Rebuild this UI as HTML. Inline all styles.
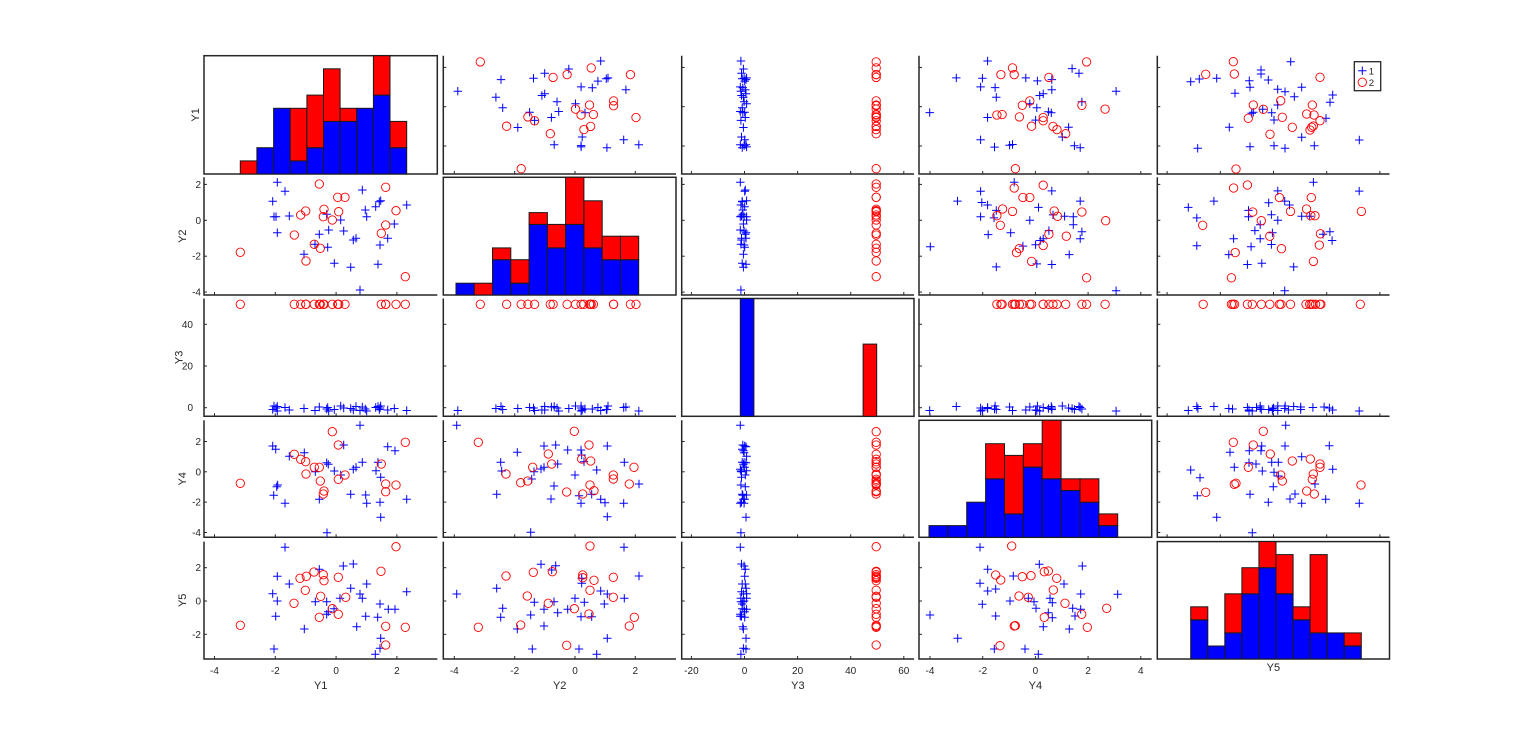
<!DOCTYPE html>
<html><head><meta charset="utf-8">
<style>
html,body{margin:0;padding:0;background:#fff;}
svg{display:block;}
text{font-family:"Liberation Sans",Arial,sans-serif;fill:#262626;}
</style></head>
<body>
<svg id="c" width="1536" height="744" xmlns="http://www.w3.org/2000/svg"></svg>
<script>
const L=[204,443.3,681.7,919,1157.3], R=[437.3,676,914,1151.7,1389.5];
const T=[55.7,177.3,298.5,420.3,541.6], B=[174,295,416.3,537.3,659];
const X0=[336.1,575,744.5,1035.4,1273.5], SX=[30.4,30.17,2.655,26.34,26.6];
const Y0=[106.7,220.3,407.7,471.8,601], SY=[19.67,17.95,2.085,15.17,16.65];
const P={
'21':{ox:180,oy:160,
b:[[292,67],[315,94],[278,124],[282,170],[288,170],[328,168],[292,218],[372,283],[405,253],[418,223],[440,163],[446,210],[443,262],[463,310],[482,180],[491,213],[520,240],[528,235],[512,322],[540,390],[547,90],[556,150],[560,170],[587,140],[598,125],[602,122],[600,255],[623,235],[594,313],[643,192],[680,135]],
r:[[181,277],[418,72],[473,112],[495,112],[617,82],[362,165],[377,153],[432,148],[476,155],[430,170],[457,180],[648,152],[617,195],[604,220],[343,225],[403,253],[421,265],[378,303],[676,350]]},
'51':{ox:180,oy:530,
b:[[315,52],[292,139],[328,162],[278,191],[292,213],[287,259],[282,357],[373,297],[406,215],[418,118],[440,215],[440,253],[445,245],[462,236],[480,205],[490,108],[520,102],[512,175],[540,192],[547,205],[560,162],[530,290],[557,259],[593,262],[600,222],[625,238],[645,238],[680,185],[602,325],[600,355],[586,373]],
r:[[181,286],[648,50],[603,124],[360,145],[379,139],[402,126],[430,134],[432,152],[475,142],[376,181],[422,199],[342,220],[457,236],[475,253],[418,262],[497,202],[617,289],[676,292],[617,345]]},
'41':{ox:180,oy:410,
b:[[540,46],[278,108],[287,118],[328,139],[373,128],[406,185],[440,158],[445,163],[463,183],[482,195],[491,105],[520,178],[528,172],[547,157],[588,182],[594,157],[602,202],[623,110],[645,122],[293,225],[290,230],[281,256],[315,280],[418,268],[512,253],[557,255],[560,280],[600,277],[602,322],[680,268],[441,368]],
r:[[181,220],[457,65],[475,105],[676,97],[343,133],[362,148],[377,155],[403,172],[418,172],[378,192],[421,213],[432,243],[430,252],[475,208],[495,195],[604,162],[617,222],[617,245],[648,225]]},
'42':{ox:435,oy:410,
b:[[65,46],[327,108],[362,105],[398,120],[438,120],[517,108],[247,127],[197,157],[200,183],[297,185],[318,177],[327,172],[290,207],[368,162],[447,155],[485,180],[568,157],[420,195],[357,228],[612,222],[185,253],[348,267],[432,257],[470,253],[438,280],[497,268],[510,278],[566,280],[517,320],[287,367],[440,135]],
r:[[418,64],[130,97],[462,105],[340,132],[440,147],[467,153],[350,162],[293,172],[213,192],[597,172],[535,195],[535,207],[257,218],[278,213],[583,222],[465,225],[477,242],[395,246],[443,252]]},
'52':{ox:435,oy:410,
b:[[567,412],[318,463],[362,467],[350,480],[440,520],[612,498],[185,535],[65,552],[497,543],[517,552],[298,577],[357,575],[420,565],[448,577],[508,582],[568,565],[203,595],[327,598],[398,598],[197,622],[287,615],[368,608],[438,620],[470,620],[247,657],[327,648],[517,685],[292,717],[432,717],[485,733],[440,505]],
r:[[465,408],[213,498],[295,487],[352,485],[443,495],[443,503],[477,511],[535,502],[465,541],[277,558],[340,580],[535,562],[418,596],[462,612],[130,652],[257,645],[598,622],[583,648],[395,706]]},
'54':{ox:910,oy:530,
b:[[210,52],[517,108],[388,103],[233,118],[310,138],[462,162],[210,160],[233,183],[257,177],[512,192],[623,193],[217,223],[300,213],[355,205],[372,215],[378,235],[420,205],[427,218],[488,235],[495,258],[512,238],[415,248],[427,263],[60,255],[257,258],[400,290],[478,297],[143,325],[253,357],[345,357],[385,373]],
r:[[305,48],[403,125],[415,123],[257,135],[272,150],[337,140],[363,137],[440,145],[430,180],[327,198],[355,202],[465,220],[590,235],[515,253],[403,262],[313,288],[316,287],[532,292],[270,347]]},
'45':{ox:1150,oy:410,
b:[[407,46],[538,107],[405,108],[335,108],[333,122],[240,127],[298,122],[455,140],[297,158],[318,162],[253,172],[365,157],[385,157],[548,178],[122,180],[337,183],[372,187],[150,203],[385,198],[495,222],[370,230],[142,257],[300,253],[435,252],[420,267],[527,268],[455,280],[355,277],[628,280],[200,322],[307,368]],
r:[[340,64],[250,97],[310,105],[361,132],[427,153],[481,147],[510,162],[510,172],[295,172],[490,192],[392,195],[487,208],[397,213],[258,220],[253,223],[633,225],[167,247],[470,243],[493,252]]},
'15':{ox:1150,oy:50,
b:[[422,35],[333,60],[333,72],[122,95],[148,87],[200,85],[298,92],[355,90],[300,112],[255,130],[383,118],[405,125],[455,112],[433,140],[548,135],[540,157],[383,165],[365,188],[310,187],[305,190],[338,178],[372,210],[528,205],[238,232],[455,262],[628,270],[143,295],[300,290],[372,287],[405,295],[493,287]],
r:[[250,35],[167,73],[253,72],[510,82],[310,165],[340,178],[392,152],[487,165],[295,205],[397,202],[470,192],[492,195],[510,212],[490,228],[480,240],[427,232],[360,253],[258,357],[485,232]]}
};
const H=[
 {e0:240.3,w:16.64,b:[0,2,5,1,2,4,4,5,6,2],r:[1,0,0,4,4,4,1,0,3,2],m:9},
 {e0:456,w:18.27,b:[1,0,3,1,6,4,6,4,3,3],r:[0,1,1,2,1,2,4,4,2,2],m:10},
 {e0:740.3,w:13.64,b:[31,0,0,0,0,0,0,0,0,0],r:[0,0,0,0,0,0,0,0,0,19],m:31},
 {e0:929,w:18.87,b:[1,1,3,5,2,6,5,4,3,1],r:[0,0,0,3,5,2,5,1,2,1],m:10},
 {e0:1190.7,w:17.06,b:[3,1,2,5,7,5,3,2,2,1],r:[1,0,3,2,2,3,1,6,0,1],m:9}
];
const CT=[[-4,-2,0,2],[-4,-2,0,2],[-20,0,20,40,60],[-4,-2,0,2,4],[-4,-2,0,2,4]];
const RT=[[-2,0,2],[-4,-2,0,2],[0,20,40],[-4,-2,0,2],[-2,0,2]];
const f=v=>Math.round(v*10)/10;
let s='';
function plus(x,y){x=f(x);y=f(y);s+=`<path d="M${f(x-4.2)} ${y}h8.4M${x} ${f(y-4.2)}v8.4" stroke="#0000ff" stroke-width="1" fill="none"/>`;}
function circ(x,y){s+=`<circle cx="${f(x)}" cy="${f(y)}" r="4.2" stroke="#ff0000" stroke-width="0.9" fill="none"/>`;}
function pix(p,pt){return [p.ox+pt[0]/3,p.oy+pt[1]/3];}
function dat(key,pt){const r=+key[0],c=+key[1];const [X,Y]=pix(P[key],pt);return [(X-X0[c-1])/SX[c-1],(Y0[r-1]-Y)/SY[r-1]];}
// marginals
const M=[[],[],[],[],[]];
['b','r'].forEach(g=>{
 P['21'][g].forEach(pt=>{const d=dat('21',pt);M[0].push([d[0],g]);M[1].push([d[1],g]);});
 P['41'][g].forEach(pt=>{const d=dat('41',pt);M[3].push([d[1],g]);});
 P['51'][g].forEach(pt=>{const d=dat('51',pt);M[4].push([d[1],g]);});
});
function y3(i,g){return g==='r'?49.6:(-1.6+((i*7)%11)/10*2.4);}
for(let r=1;r<=5;r++){for(let c=1;c<=5;c++){
 const l=L[c-1],rr=R[c-1],t=T[r-1],b=B[r-1];
 if(r===c){
  const h=H[r-1];const u=(b-t)/h.m;
  s+=`<rect x="${l}" y="${t}" width="${f(rr-l)}" height="${f(b-t)}" fill="#fff" stroke="#262626" stroke-width="1.5"/>`;
  for(let i=0;i<10;i++){
   const x=h.e0+i*h.w;
   if(h.b[i]>0)s+=`<rect x="${f(x)}" y="${f(b-h.b[i]*u)}" width="${f(h.w)}" height="${f(h.b[i]*u)}" fill="#0000ff" stroke="#1a1a1a" stroke-width="1"/>`;
   if(h.r[i]>0)s+=`<rect x="${f(x)}" y="${f(b-(h.b[i]+h.r[i])*u)}" width="${f(h.w)}" height="${f(h.r[i]*u)}" fill="#ff0000" stroke="#1a1a1a" stroke-width="1"/>`;
  }
  continue;
 }
 // axes lines
 s+=`<path d="M${l} ${t}V${b}H${rr}" stroke="#262626" stroke-width="1.5" fill="none"/>`;
 CT[c-1].forEach(v=>{const x=X0[c-1]+v*SX[c-1];if(x>l+1&&x<rr-1)s+=`<path d="M${f(x)} ${b}v-3" stroke="#262626" stroke-width="1"/>`;});
 RT[r-1].forEach(v=>{const y=Y0[r-1]-v*SY[r-1];if(y>t+1&&y<b-1)s+=`<path d="M${l} ${f(y)}h3" stroke="#262626" stroke-width="1"/>`;});
 const key=''+r+c,tk=''+c+r;
 const pts={b:[],r:[]};
 if(P[key]){['b','r'].forEach(g=>P[key][g].forEach(pt=>pts[g].push(pix(P[key],pt))));}
 else if(r!==3&&c!==3&&P[tk]){['b','r'].forEach(g=>P[tk][g].forEach(pt=>{const d=dat(tk,pt);pts[g].push([X0[c-1]+d[1]*SX[c-1],Y0[r-1]-d[0]*SY[r-1]]);}));}
 else if(c===3){M[r-1].forEach((m,i)=>{pts[m[1]].push([X0[2]+y3(i,m[1])*SX[2],Y0[r-1]-m[0]*SY[r-1]]);});}
 else if(r===3){M[c-1].forEach((m,i)=>{pts[m[1]].push([X0[c-1]+m[0]*SX[c-1],Y0[2]-y3(i,m[1])*SY[2]]);});}
 pts.b.forEach(p=>plus(p[0],p[1]));
 pts.r.forEach(p=>circ(p[0],p[1]));
}}
// tick labels x (bottom row)
for(let c=1;c<=4;c++){CT[c-1].forEach(v=>{const x=X0[c-1]+v*SX[c-1];if(x>L[c-1]+1&&x<R[c-1]-1)s+=`<text x="${f(x)}" y="674" font-size="10" text-anchor="middle">${v}</text>`;});}
// tick labels y (left col)
for(let r=2;r<=5;r++){const xr=r===3?193:201;RT[r-1].forEach(v=>{const y=Y0[r-1]-v*SY[r-1];s+=`<text x="${xr}" y="${f(y+3.5)}" font-size="10" text-anchor="end">${v}</text>`;});}
// x labels
const xl=[[320.7,689],[559.7,689],[797.9,689],[1035.4,689],[1273.4,671]];
xl.forEach((p,i)=>{s+=`<text x="${p[0]}" y="${p[1]}" font-size="11" text-anchor="middle">Y${i+1}</text>`;});
// y labels
const yl=[195,182,178.3,182,182];
yl.forEach((cx,i)=>{const cy=(T[i]+B[i])/2;const x=cx+4;s+=`<text transform="translate(${x} ${f(cy)}) rotate(-90)" font-size="11" text-anchor="middle">Y${i+1}</text>`;});
// legend
s+=`<rect x="1354.3" y="61.7" width="26.4" height="29" fill="#fff" stroke="#262626" stroke-width="1.3"/>`;
plus(1362.3,70.7);circ(1362.3,82.3);
s+=`<text x="1368.8" y="74.3" font-size="9.5">1</text><text x="1368.8" y="85.9" font-size="9.5">2</text>`;
document.getElementById('c').innerHTML=s;
</script>
</body></html>
